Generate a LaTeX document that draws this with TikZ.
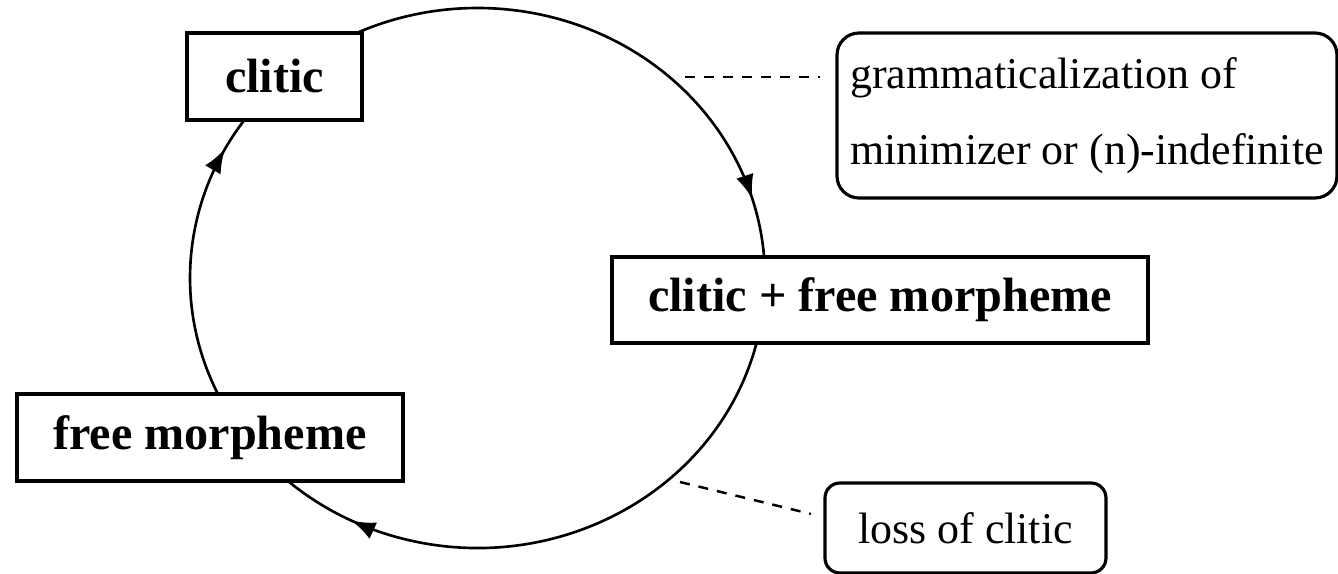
\documentclass[tikz,border=0pt]{standalone}
\usepackage{fontspec}
\setmainfont{Liberation Serif}
\usetikzlibrary{arrows.meta,decorations.markings}
\tikzset{bx/.style = {rectangle, draw, line width=0.9pt, fill=white, inner sep=0pt, font=\fontsize{13.7}{16}\selectfont\bfseries},
         nt/.style = {rectangle, rounded corners=2.2mm, draw, line width=0.9pt, fill=white, inner sep=0pt, font=\fontsize{12.5}{21.6}\selectfont},
         cyc/.style = {line width=0.75pt, postaction={decorate}, decoration={markings, mark=at position #1 with {\arrow{>}}}},
         lk/.style = {line width=0.7pt, dash pattern=on 1mm off 0.9mm}}

\begin{document}
\begin{tikzpicture}[>={Latex[length=2.4mm,width=1.8mm]}]
    \useasboundingbox (0,0) rectangle (13.38,5.74);
    \coordinate (ctr) at (4.775,2.96);
    % the cycle
    \draw[cyc=0.88] ([shift={(205.44:2.875 and 2.70)}]ctr) arc[start angle=205.44, end angle=144.2, x radius=2.875, y radius=2.70];
    \draw[cyc=0.89] ([shift={(115:2.875 and 2.70)}]ctr) arc[start angle=115, end angle=4.46, x radius=2.875, y radius=2.70];
    \draw[cyc=0.87] ([shift={(-13.93:2.875 and 2.70)}]ctr) arc[start angle=-13.93, end angle=-131.25, x radius=2.875, y radius=2.70];
    \node[bx, minimum width=1.75cm, minimum height=0.87cm] (clitic) at (2.745,4.975) {clitic};
    \node[bx, minimum width=5.36cm, minimum height=0.86cm] (cfm) at (8.80,2.74) {clitic + free morpheme};
    \node[bx, minimum width=3.86cm, minimum height=0.87cm] (freem) at (2.10,1.365) {free morpheme};
    \node[nt, minimum width=5.0cm, minimum height=1.65cm, align=left] (gram) at (10.87,4.585) {grammaticalization of\\minimizer or (n)-indefinite};
    \node[nt, rounded corners=1.5mm, minimum width=2.81cm, minimum height=0.9cm] (loss) at (9.655,0.46) {loss of clitic};
    % links to the notes
    \coordinate (g0) at (6.85,4.97);
    \coordinate (l0) at (6.80,0.92);
    \draw[lk, shorten >=0.15cm] (g0) -- (g0 -| gram.west);
    \draw[lk, shorten >=0.13cm] (l0) -- ([yshift=0.11cm]loss.west);
\end{tikzpicture}
\end{document}
